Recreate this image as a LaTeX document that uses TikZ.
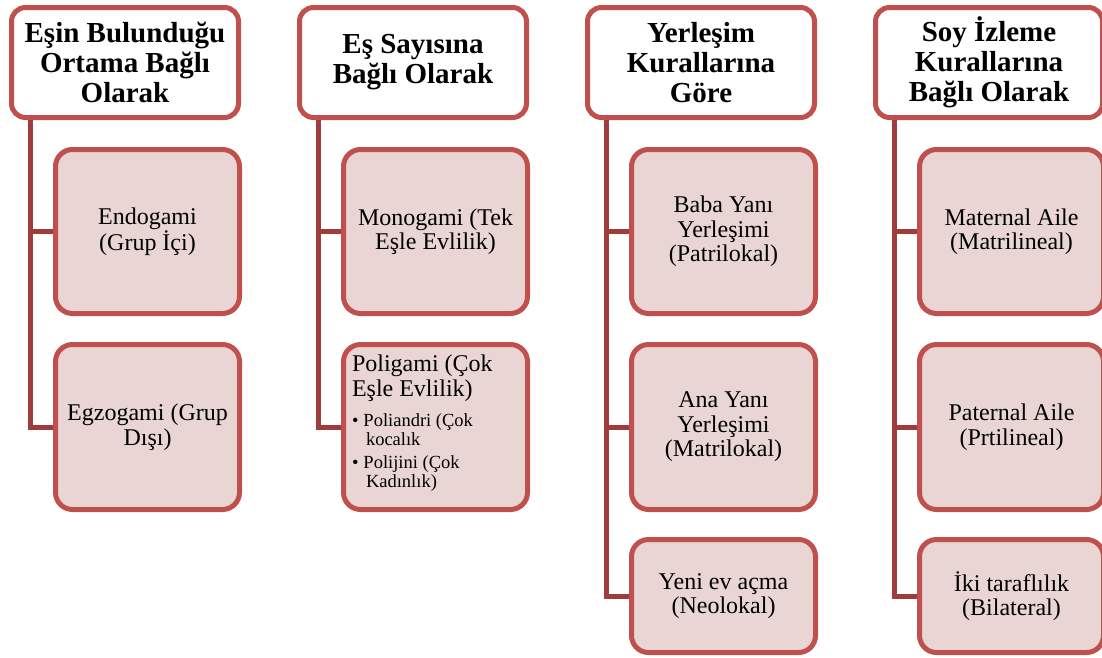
\documentclass[tikz,border=0pt]{standalone}
\usepackage{fontspec}
\setmainfont{Liberation Serif}
\usetikzlibrary{backgrounds}

\definecolor{boxred}{HTML}{C0504D}
\definecolor{linkred}{HTML}{9E3D3B}
\definecolor{childpink}{HTML}{E9D5D4}

\begin{document}
\begin{tikzpicture}[x=1pt,y=-1pt,
    headbox/.style={draw=boxred, line width=5pt, fill=white, rounded corners=14pt,
      minimum width=227pt, minimum height=110pt, inner sep=0pt, align=center,
      font=\fontsize{29}{30}\selectfont\bfseries},
    childbox/.style={draw=boxred, line width=5pt, fill=childpink, rounded corners=17pt,
      minimum width=184pt, inner sep=0pt, align=center,
      font=\fontsize{24}{24.5}\selectfont},
    branch/.style={draw=linkred, line width=5pt}]
  \useasboundingbox (0,0) rectangle (1102,657);

  % header boxes
  \node[headbox] (ortam) at (125,62.5) {Eşin Bulunduğu\\Ortama Bağlı\\Olarak};
  \node[headbox] (sayi) at (413,62.5) {Eş Sayısına\\Bağlı Olarak};
  \node[headbox] (yerl) at (701,62.5) {Yerleşim\\Kurallarına\\Göre};
  \node[headbox] (soy) at (989,62.5) {Soy İzleme\\Kurallarına\\Bağlı Olarak};

  % first column
  \node[childbox, minimum height=164pt] (endo) at (147.5,231.5) {Endogami\\(Grup İçi)};
  \node[childbox, minimum height=165pt] (egzo) at (147.5,427) {Egzogami (Grup\\Dışı)};

  % second column
  \node[childbox, minimum height=164pt] (mono) at (435.5,231.5) {Monogami (Tek\\Eşle Evlilik)};
  \node[childbox, minimum height=165pt] (poli) at (435.5,427)
    {\parbox[c]{167pt}{\raggedright
      Poligami (Çok\newline Eşle Evlilik)\par
      \vspace{12pt}
      {\fontsize{18.5}{18.5}\selectfont
       \hangindent=14pt\hangafter=1 \textbullet\hspace{5pt}Poliandri (Çok\newline kocalık\par
       \vspace{5pt}
       \hangindent=14pt\hangafter=1 \textbullet\hspace{5pt}Polijini (Çok\newline Kadınlık)\par}
      \vspace{8pt}}};

  % third column
  \node[childbox, minimum height=164pt] (baba) at (723.5,231.5) {Baba Yanı\\Yerleşimi\\(Patrilokal)};
  \node[childbox, minimum height=165pt] (ana) at (723.5,427) {Ana Yanı\\Yerleşimi\\(Matrilokal)};
  \node[childbox, minimum height=113pt] (neo) at (723.5,596) {Yeni ev açma\\(Neolokal)};

  % fourth column
  \node[childbox, minimum height=164pt] (mat) at (1011.5,231.5) {Maternal Aile\\(Matrilineal)};
  \node[childbox, minimum height=165pt] (pat) at (1011.5,427) {Paternal Aile\\(Prtilineal)};
  \node[childbox, minimum height=113pt] (bil) at (1011.5,596) {İki taraflılık\\(Bilateral)};

  % connectors behind the boxes
  \begin{scope}[on background layer]
    \draw[branch] ([xshift=21.5pt]ortam.south west) |- (endo.west);
    \draw[branch] ([xshift=21.5pt]ortam.south west) |- (egzo.west);
    \draw[branch] ([xshift=21.5pt]sayi.south west) |- (mono.west);
    \draw[branch] ([xshift=21.5pt]sayi.south west) |- (poli.west);
    \draw[branch] ([xshift=21.5pt]yerl.south west) |- (baba.west);
    \draw[branch] ([xshift=21.5pt]yerl.south west) |- (ana.west);
    \draw[branch] ([xshift=21.5pt]yerl.south west) |- (neo.west);
    \draw[branch] ([xshift=21.5pt]soy.south west) |- (mat.west);
    \draw[branch] ([xshift=21.5pt]soy.south west) |- (pat.west);
    \draw[branch] ([xshift=21.5pt]soy.south west) |- (bil.west);
  \end{scope}
\end{tikzpicture}
\end{document}
